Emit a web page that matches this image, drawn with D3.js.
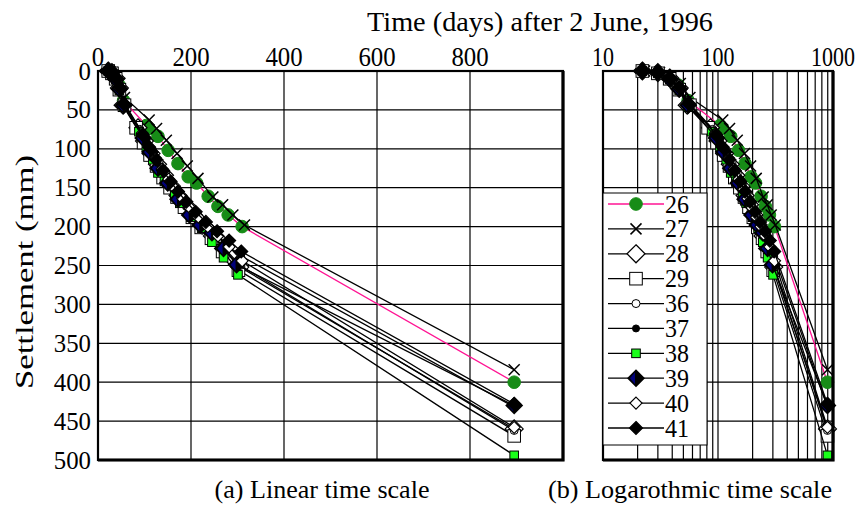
<!DOCTYPE html>
<html>
<head>
<meta charset="utf-8">
<script src="https://cdn.jsdelivr.net/npm/d3@7"></script>
<style>
  body { margin: 0; background: #fff; }
  text { font-family: "Liberation Serif", "Times New Roman", serif; fill: #000; }
</style>
</head>
<body>
<div class="main-chart"></div>
<script>
// номера марок (серии)
const seriesNames = [`26`, `27`, `28`, `29`, `36`, `37`, `38`, `39`, `40`, `41`];

// время (сутки) и осадка (мм) для каждой марки
const t26 = [22, 30, 38, 45, 55, 104, 110, 129, 151, 172, 194, 212, 237, 258, 280, 310, 895];
const s26 = [0, 2, 8, 18, 38, 70, 74, 84, 102, 119, 136, 144, 161, 174, 185, 200, 400];
const t27 = [23, 31, 39, 47, 57, 110, 126, 147, 170, 192, 215, 247, 268, 290, 315, 895];
const s27 = [0, 2, 7, 16, 34, 63, 74, 89, 106, 122, 138, 162, 172, 185, 198, 384];
const t28 = [22, 30, 38, 46, 54, 86, 100, 114, 128, 143, 158, 172, 188, 205, 224, 246, 270, 305, 895];
const s28 = [0, 2, 9, 22, 44, 73, 90, 106, 120, 134, 148, 160, 172, 185, 198, 212, 228, 252, 460];
const t29 = [22, 30, 38, 46, 57, 82, 98, 112, 126, 140, 155, 170, 186, 203, 222, 244, 268, 302, 895];
const s29 = [0, 3, 10, 24, 44, 73, 92, 108, 122, 137, 150, 162, 175, 188, 201, 215, 232, 256, 469];
const t36 = [22, 30, 38, 46, 55, 90, 104, 118, 132, 146, 160, 175, 190, 208, 226, 248, 272, 306, 895];
const s36 = [0, 2, 9, 21, 42, 75, 94, 110, 124, 137, 150, 162, 174, 187, 199, 212, 228, 250, 462];
const t37 = [22, 30, 38, 46, 55, 92, 106, 120, 134, 148, 163, 178, 194, 212, 232, 254, 278, 308, 895];
const s37 = [0, 2, 8, 20, 40, 76, 95, 110, 124, 138, 151, 163, 176, 188, 200, 212, 224, 238, 432];
const t38 = [22, 30, 38, 46, 55, 88, 104, 118, 129, 143, 165, 176, 200, 223, 245, 270, 301, 895];
const s38 = [0, 3, 11, 25, 46, 78, 98, 114, 131, 142, 159, 170, 188, 202, 220, 240, 262, 494];
const t39 = [22, 30, 38, 46, 55, 97, 112, 129, 150, 172, 197, 220, 245, 270, 298, 895];
const s39 = [0, 2, 10, 23, 44, 86, 104, 125, 144, 165, 185, 198, 208, 228, 249, 430];
const t40 = [22, 30, 38, 46, 56, 95, 110, 124, 138, 152, 167, 182, 198, 216, 236, 258, 282, 310, 895];
const s40 = [0, 2, 9, 22, 43, 80, 98, 112, 126, 139, 152, 164, 176, 188, 200, 212, 226, 244, 458];
const t41 = [22, 30, 38, 46, 56, 96, 110, 125, 140, 156, 172, 190, 210, 232, 256, 282, 308, 895];
const s41 = [0, 2, 9, 21, 42, 82, 98, 114, 128, 142, 155, 168, 181, 194, 206, 218, 232, 428];

const seriesTimes = [t26, t27, t28, t29, t36, t37, t38, t39, t40, t41];
const seriesValues = [s26, s27, s28, s29, s36, s37, s38, s39, s40, s41];

// подписи делений
const linearTicks = [0, 200, 400, 600, 800];
const logTicks = [10, 100, 1000];
const settlementTicks = [0, 50, 100, 150, 200, 250, 300, 350, 400, 450, 500];

// стиль маркеров
const styles = {
  '26': {line: `#ff1493`, shape: `circle`, size: 6.3, fill: `#178c17`, stroke: `#178c17`},
  '27': {line: `#000`, shape: `cross`, size: 5.5},
  '28': {line: `#000`, shape: `diamond`, size: 9, fill: `#fff`},
  '29': {line: `#000`, shape: `square`, size: 6.3, fill: `#fff`},
  '36': {line: `#000`, shape: `circle`, size: 4, fill: `#fff`, stroke: `#000`},
  '37': {line: `#000`, shape: `circle`, size: 3.5, fill: `#000`, stroke: `#000`},
  '38': {line: `#000`, shape: `square`, size: 4.3, fill: `#1aff1a`},
  '39': {line: `#000`, shape: `split`, size: 9},
  '40': {line: `#000`, shape: `diamond`, size: 6, fill: `#fff`},
  '41': {line: `#000`, shape: `diamond`, size: 6.5, fill: `#000`}
};

const series = seriesNames.map((name, i) => ({
  name: name,
  points: seriesTimes[i].map((t, j) => ({t: t, s: seriesValues[i][j]}))
}));

function drawMarker(g, st) {
  const s = st.size;
  if (st.shape === `circle`) {
    g.append(`circle`).attr(`r`, s).attr(`fill`, st.fill).attr(`stroke`, st.stroke).attr(`stroke-width`, 1);
  } else if (st.shape === `cross`) {
    g.append(`path`).attr(`d`, `M${-s},${-s}L${s},${s}M${-s},${s}L${s},${-s}`)
      .attr(`stroke`, `#000`).attr(`stroke-width`, 1.5).attr(`fill`, `none`);
  } else if (st.shape === `square`) {
    g.append(`rect`).attr(`x`, -s).attr(`y`, -s).attr(`width`, 2 * s).attr(`height`, 2 * s)
      .attr(`fill`, st.fill).attr(`stroke`, `#000`).attr(`stroke-width`, 1);
  } else if (st.shape === `diamond`) {
    g.append(`path`).attr(`d`, `M0,${-s}L${s},0L0,${s}L${-s},0Z`)
      .attr(`fill`, st.fill).attr(`stroke`, `#000`).attr(`stroke-width`, 1.2);
  } else {
    g.append(`path`).attr(`d`, `M0,${-s}L${s},0L0,${s}L${-s},0Z`).attr(`fill`, `#000`);
    g.append(`path`).attr(`d`, `M-1,${-s + 3}L-1,${s - 3}L${-s + 3},0Z`).attr(`fill`, `#00007a`);
  }
}

const W = 862, H = 505;
const svg = d3.select(`.main-chart`).append(`svg`)
  .attr(`width`, W).attr(`height`, H);
svg.append(`rect`).attr(`width`, W).attr(`height`, H).attr(`fill`, `#fff`);

const y = d3.scaleLinear().domain([0, 500]).range([71, 460]);
const xLin = d3.scaleLinear().domain([0, 1000]).range([98, 563]);
const xLog = d3.scaleLog().domain([10, 1000]).range([603, 833]);

// сетка панели
function drawPanel(x, vGrid) {
  const g = svg.append(`g`);
  const [x0, x1] = x.range();
  g.selectAll(`.hg`).data(settlementTicks).enter().append(`line`)
    .attr(`x1`, x0).attr(`x2`, x1)
    .attr(`y1`, d => y(d)).attr(`y2`, d => y(d))
    .attr(`stroke`, `#000`).attr(`stroke-width`, 1.2);
  g.selectAll(`.vg`).data(vGrid).enter().append(`line`)
    .attr(`x1`, d => x(d)).attr(`x2`, d => x(d))
    .attr(`y1`, y(0)).attr(`y2`, y(500))
    .attr(`stroke`, `#000`).attr(`stroke-width`, 1.2);
  return g;
}

// рамка панели
function drawFrame(x) {
  const [x0, x1] = x.range();
  svg.append(`rect`).attr(`x`, x0).attr(`y`, y(0))
    .attr(`width`, x1 - x0).attr(`height`, y(500) - y(0))
    .attr(`fill`, `none`).attr(`stroke`, `#000`).attr(`stroke-width`, 2.2);
  svg.append(`path`)
    .attr(`d`, `M${x0},${y(500)}L${x1},${y(500)}L${x1},${y(0)}`)
    .attr(`fill`, `none`).attr(`stroke`, `#000`).attr(`stroke-width`, 3.2);
}

function drawSeries(x) {
  const line = d3.line().x(d => x(d.t)).y(d => y(d.s));
  series.forEach(sr => {
    const st = styles[sr.name];
    svg.append(`path`).datum(sr.points)
      .attr(`d`, line).attr(`fill`, `none`)
      .attr(`stroke`, st.line).attr(`stroke-width`, 1.3);
    svg.append(`g`).selectAll(`g`).data(sr.points).enter().append(`g`)
      .attr(`transform`, d => `translate(${x(d.t)},${y(d.s)})`)
      .each(function() { drawMarker(d3.select(this), st); });
  });
}

drawPanel(xLin, [200, 400, 600, 800]);
const logGrid = [20, 30, 40, 50, 60, 70, 80, 90, 100, 200, 300, 400, 500, 600, 700, 800, 900];
drawPanel(xLog, logGrid);
drawSeries(xLin);
drawSeries(xLog);
drawFrame(xLin);
drawFrame(xLog);

// подписи осей (шрифт чуть сжат по ширине, как в оригинале)
const digitW = 12.4;
svg.selectAll(`.xl`).data(linearTicks).enter().append(`text`)
  .attr(`x`, d => xLin(d)).attr(`y`, 66).attr(`text-anchor`, `middle`)
  .attr(`font-size`, 27).attr(`textLength`, d => String(d).length * digitW)
  .attr(`lengthAdjust`, `spacingAndGlyphs`).text(d => d);
svg.selectAll(`.xg`).data(logTicks).enter().append(`text`)
  .attr(`x`, d => xLog(d)).attr(`y`, 66).attr(`text-anchor`, `middle`)
  .attr(`font-size`, 27).attr(`textLength`, d => String(d).length * 11)
  .attr(`lengthAdjust`, `spacingAndGlyphs`).text(d => d);
svg.selectAll(`.yl`).data(settlementTicks).enter().append(`text`)
  .attr(`x`, 91).attr(`y`, d => y(d) + 8.5).attr(`text-anchor`, `end`)
  .attr(`font-size`, 26).attr(`textLength`, d => String(d).length * digitW)
  .attr(`lengthAdjust`, `spacingAndGlyphs`).text(d => d);

svg.append(`text`).attr(`x`, 540).attr(`y`, 31).attr(`text-anchor`, `middle`)
  .attr(`font-size`, 27).attr(`textLength`, 346).attr(`lengthAdjust`, `spacingAndGlyphs`)
  .text(`Time (days) after 2 June, 1996`);
svg.append(`text`).attr(`transform`, `translate(33,272) rotate(-90)`)
  .attr(`text-anchor`, `middle`).attr(`font-size`, 25)
  .attr(`textLength`, 234).attr(`lengthAdjust`, `spacingAndGlyphs`)
  .text(`Settlement (mm)`);
svg.append(`text`).attr(`x`, 322).attr(`y`, 498).attr(`text-anchor`, `middle`)
  .attr(`font-size`, 26).attr(`textLength`, 215).attr(`lengthAdjust`, `spacingAndGlyphs`)
  .text(`(a) Linear time scale`);
svg.append(`text`).attr(`x`, 690).attr(`y`, 498).attr(`text-anchor`, `middle`)
  .attr(`font-size`, 26).attr(`textLength`, 284).attr(`lengthAdjust`, `spacingAndGlyphs`)
  .text(`(b) Logarothmic time scale`);

// легенда
const legend = svg.append(`g`);
legend.append(`rect`).attr(`x`, 603).attr(`y`, 193).attr(`width`, 104).attr(`height`, 252)
  .attr(`fill`, `#fff`).attr(`stroke`, `#000`).attr(`stroke-width`, 1);
const ly = d3.scalePoint().domain(seriesNames).range([204, 428]);
const rows = legend.selectAll(`.lr`).data(seriesNames).enter().append(`g`)
  .attr(`transform`, d => `translate(0,${ly(d)})`);
rows.append(`line`).attr(`x1`, 608).attr(`x2`, 664)
  .attr(`stroke`, d => styles[d].line).attr(`stroke-width`, 1.3);
rows.append(`g`).attr(`transform`, `translate(636,0)`)
  .each(function(d) { drawMarker(d3.select(this), styles[d]); });
rows.append(`text`).attr(`x`, 665).attr(`y`, 8.5).attr(`font-size`, 25)
  .attr(`textLength`, 24).attr(`lengthAdjust`, `spacingAndGlyphs`).text(d => d);
</script>
</body>
</html>
